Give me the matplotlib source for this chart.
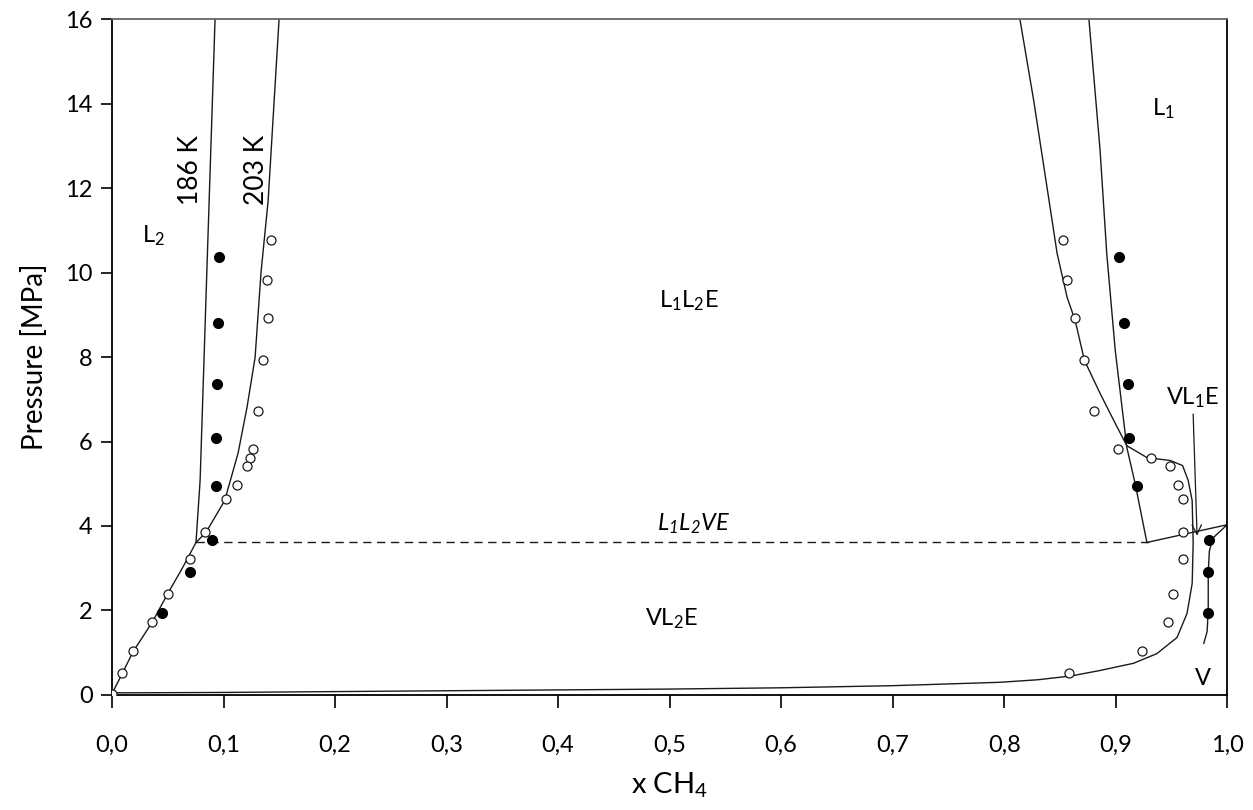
import numpy as np
import matplotlib
matplotlib.use("Agg")
import matplotlib.pyplot as plt

plt.rcParams["font.family"] = ["Lato", "DejaVu Sans"]

# ─── Data ────────────────────────────────────────────────────────────────────
# shared low-pressure branch (both isotherms), origin -> three-phase point
low_x = [0.0, 0.009, 0.019, 0.036, 0.050, 0.063, 0.0753]
low_p = [0.03, 0.50, 1.03, 1.72, 2.40, 3.00, 3.61]

# 186 K, L2 side above three-phase line
l2_186_x = [0.0753, 0.079, 0.085, 0.0924]
l2_186_p = [3.61, 5.08, 10.0, 16.0]

# 203 K, L2 side above three-phase line
l2_203_x = [0.0753, 0.0843, 0.101, 0.113, 0.121, 0.1283, 0.1336, 0.140, 0.1498]
l2_203_p = [3.61, 3.85, 4.60, 5.72, 6.80, 7.99, 10.0, 11.70, 16.0]

# 186 K, L1 side
l1_186_x = [0.928, 0.9175, 0.910, 0.8996, 0.892, 0.886, 0.876]
l1_186_p = [3.61, 5.00, 5.86, 8.16, 10.45, 12.9, 16.0]

# 186 K three-phase tie to vapour and vapour branch
tie_x = [0.928, 1.0, 0.987]
tie_p = [3.61, 4.03, 3.71]
v_186_x = [0.987, 0.984, 0.983, 0.983, 0.982, 0.979]
v_186_p = [3.71, 3.40, 2.90, 2.00, 1.50, 1.22]

# 203 K, VL2 bubble along the bottom, dew branch and L1 side
c203_x = [0.0, 0.1, 0.2, 0.3, 0.4, 0.5, 0.6, 0.7, 0.796, 0.830, 0.860, 0.886,
          0.916, 0.937, 0.955, 0.964, 0.9686, 0.9695, 0.9686, 0.965, 0.960,
          0.949, 0.928, 0.910, 0.8996, 0.886, 0.872, 0.8637, 0.8565, 0.8475,
          0.843, 0.8265, 0.8143]
c203_p = [0.05, 0.06, 0.08, 0.10, 0.12, 0.14, 0.17, 0.22, 0.30, 0.36, 0.45,
          0.58, 0.75, 0.98, 1.36, 1.93, 2.64, 3.61, 4.60, 5.08, 5.43, 5.55,
          5.62, 5.90, 6.43, 7.14, 7.92, 8.86, 9.41, 10.45, 11.23, 14.07, 15.97]

# experimental points, 203 K (open) and 186 K (filled)
open_left_x = [0.1426, 0.139, 0.140, 0.1354, 0.131, 0.1265, 0.124, 0.121,
               0.112, 0.102, 0.083, 0.070, 0.050, 0.036, 0.019, 0.009, 0.0]
open_right_x = [0.853, 0.8565, 0.8637, 0.872, 0.881, 0.902, 0.932, 0.949,
                0.956, 0.960, 0.960, 0.9605, 0.9516, 0.947, 0.924, 0.858]
open_p = [10.78, 9.83, 8.93, 7.92, 6.73, 5.83, 5.62, 5.41, 4.98, 4.63, 3.85,
          3.21, 2.40, 1.72, 1.03, 0.51, 0.03]

filled_left_x = [0.096, 0.095, 0.094, 0.093, 0.093, 0.0897, 0.070, 0.045]
filled_right_x = [0.903, 0.9076, 0.911, 0.912, 0.919, 0.984, 0.983, 0.983]
filled_p = [10.36, 8.80, 7.37, 6.09, 4.95, 3.68, 2.92, 1.95]

three_phase_p = 3.61
three_phase_x = [0.0753, 0.93]

x_ticks = np.round(np.arange(0, 1.01, 0.1), 1)
x_tick_labels = [f"{v:.1f}".replace(".", ",") for v in x_ticks]
y_ticks = list(range(0, 17, 2))

# ─── Figure ──────────────────────────────────────────────────────────────────
fig = plt.figure(figsize=(12.53, 8.10), dpi=100)
ax = fig.add_axes([0.0894, 0.142, 0.890, 0.8345])

LINE = "#1a1a1a"
lw = 1.0

ax.plot(low_x, low_p, color=LINE, lw=lw)
ax.plot(l2_186_x, l2_186_p, color=LINE, lw=lw)
ax.plot(l2_203_x, l2_203_p, color=LINE, lw=lw)
ax.plot(l1_186_x, l1_186_p, color=LINE, lw=lw)
ax.plot(tie_x, tie_p, color=LINE, lw=lw)
ax.plot(v_186_x, v_186_p, color=LINE, lw=lw)
ax.plot(c203_x, c203_p, color=LINE, lw=lw)
ax.plot(three_phase_x, [three_phase_p] * 2, color=LINE, lw=1.0,
        ls=(0, (6, 4)))

ax.plot(open_left_x, open_p, "o", ms=6.5, mfc="white", mec=LINE, mew=0.9,
        zorder=3)
ax.plot(open_right_x, open_p[:len(open_right_x)], "o", ms=6.5, mfc="white",
        mec=LINE, mew=0.9, zorder=3)
ax.plot(filled_left_x, filled_p, "o", ms=7, color="black", zorder=3)
ax.plot(filled_right_x, filled_p, "o", ms=7, color="black", zorder=3)

# ─── Labels inside plot ──────────────────────────────────────────────────────
fs = 17
ax.text(0.070, 12.43, "186 K", rotation=90, ha="center", va="center",
        fontsize=19)
ax.text(0.130, 12.43, "203 K", rotation=90, ha="center", va="center",
        fontsize=19)
ax.text(0.037, 10.87, r"$\mathregular{L_2}$", ha="center", va="center",
        fontsize=fs)
ax.text(0.517, 9.34, r"$\mathregular{L_1L_2E}$", ha="center", va="center",
        fontsize=fs)
ax.text(0.943, 13.88, r"$\mathregular{L_1}$", ha="center", va="center",
        fontsize=fs)
ax.text(0.521, 4.06, r"$\mathregular{L_1L_2VE}$", ha="center", va="center",
        fontsize=fs, style="italic")
ax.text(0.502, 1.81, r"$\mathregular{VL_2E}$", ha="center", va="center",
        fontsize=fs)
ax.text(0.978, 0.39, "V", ha="center", va="center", fontsize=fs)
ax.annotate(r"$\mathregular{VL_1E}$", xy=(0.973, 3.77), xytext=(0.969, 7.04),
            ha="center", va="center", fontsize=fs,
            arrowprops=dict(arrowstyle="->", color=LINE, lw=0.9,
                            shrinkA=1, shrinkB=0))

# ─── Axes styling ────────────────────────────────────────────────────────────
ax.set_xlim(0, 1)
ax.set_ylim(0, 16)
ax.set_xticks(x_ticks)
ax.set_xticklabels(x_tick_labels)
ax.set_yticks(y_ticks)
ax.tick_params(axis="x", direction="out", length=9, width=1.2, pad=20,
               labelsize=17)
ax.tick_params(axis="y", direction="out", length=8, width=1.2, pad=6,
               labelsize=17)
for side in ["left", "bottom", "right"]:
    ax.spines[side].set_linewidth(1.3)
    ax.spines[side].set_color("black")
ax.spines["top"].set_color("#666666")
ax.spines["top"].set_linewidth(1.3)

ax.set_xlabel(r"x CH$\mathregular{_4}$", fontsize=21, labelpad=10)
ax.set_ylabel("Pressure [MPa]", fontsize=20, labelpad=12)

fig.savefig("out.png", dpi=100)
